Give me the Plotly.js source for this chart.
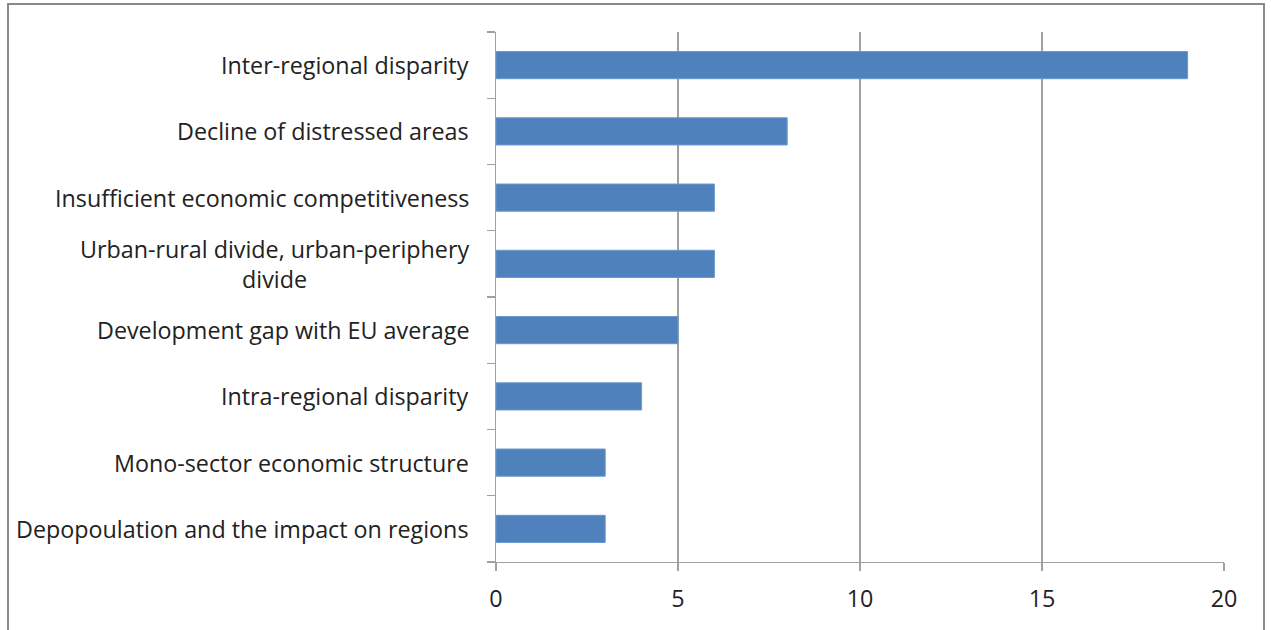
<!DOCTYPE html>
<html><head><meta charset="utf-8">
<script src="https://cdn.plot.ly/plotly-3.0.1.min.js"></script>
<style>
html,body{margin:0;padding:0;background:#fff;}
#frame{position:absolute;left:7px;top:3px;width:1258px;height:640px;border:2px solid #8a8a8a;box-sizing:border-box;pointer-events:none;z-index:5;}
#chart{position:absolute;left:0;top:0;width:1271px;height:630px;}
</style></head>
<body>
<div id="chart"></div>
<div id="frame"></div>
<script>
const categories = [
  "Inter-regional disparity",
  "Decline of distressed areas",
  "Insufficient economic competitiveness",
  "Urban-rural divide, urban-periphery<br>divide",
  "Development gap with EU average",
  "Intra-regional disparity",
  "Mono-sector economic structure",
  "Depopoulation and the impact on regions"
];
const values = [19, 8, 6, 6, 5, 4, 3, 3];
const xTicks = [0, 5, 10, 15, 20];

const font = "'Open Sans', 'Liberation Sans', sans-serif";
const trace = {
  type: 'bar', orientation: 'h',
  x: values, y: categories.map((c,i)=>i),
  width: 0.41,
  marker: {color: '#4F81BD', line: {color: '#6a98cc', width: 1}},
  hoverinfo: 'none'
};
const annotations = categories.map((c,i)=>({
  text: c, x: 0, xref: 'paper', y: i, yref: 'y',
  xanchor: 'right', yanchor: 'middle', align: 'center',
  xshift: -25, showarrow: false,
  font: {family: font, size: 23.3, color: '#222'}
}));
const layout = {
  width: 1271, height: 630,
  margin: {l: 496, r: 47, t: 32, b: 68, pad: 0},
  paper_bgcolor: '#fff', plot_bgcolor: '#fff',
  showlegend: false,
  font: {family: font, size: 23.3, color: '#222'},
  xaxis: {
    range: [0, 20], tickvals: xTicks, ticktext: xTicks.map(String),
    showgrid: true, gridcolor: '#a0a0a0', gridwidth: 1.3,
    zeroline: false, showline: true, linecolor: '#a0a0a0', linewidth: 1.3,
    ticks: 'outside', ticklen: 8, tickcolor: '#a0a0a0', tickwidth: 1.3,
    ticklabelstandoff: 8,
    tickfont: {family: font, size: 23.3, color: '#222'}
  },
  yaxis: {
    type: 'linear', range: [7.5, -0.5],
    tickvals: [-0.5,0.5,1.5,2.5,3.5,4.5,5.5,6.5,7.5],
    showticklabels: false, showgrid: false, zeroline: false,
    showline: true, linecolor: '#a0a0a0', linewidth: 1.3,
    ticks: 'outside', ticklen: 8, tickcolor: '#a0a0a0', tickwidth: 1.3
  },
  annotations: annotations
};
Plotly.newPlot('chart', [trace], layout, {displayModeBar: false, staticPlot: true});
</script>
</body></html>
